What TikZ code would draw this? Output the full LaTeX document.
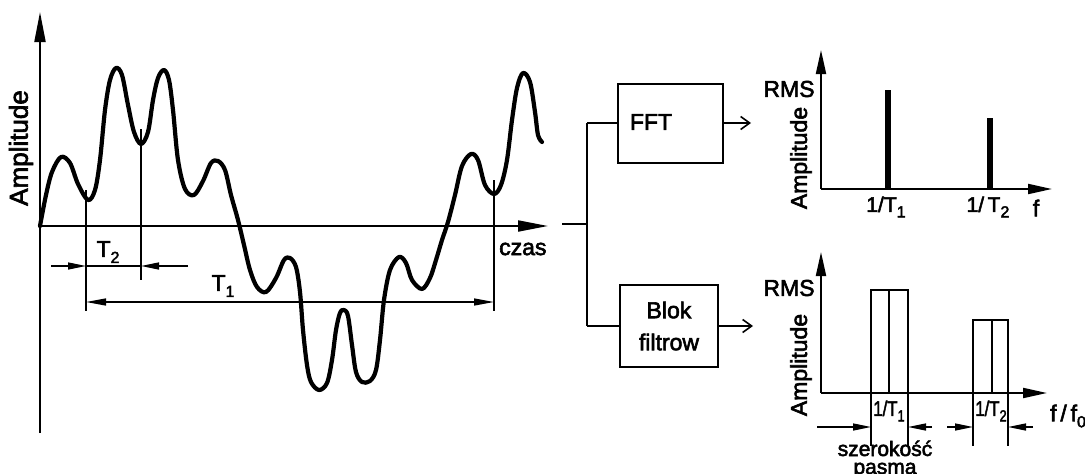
\documentclass[tikz,border=0pt]{standalone}
\usepackage{fontspec}
\setmainfont{Liberation Sans}[FakeBold=2.5]
\usetikzlibrary{arrows.meta}
\newcommand\lsub[1]{\raisebox{-0.5ex}{\fontsize{16}{16}\selectfont #1}}
\begin{document}
\begin{tikzpicture}[x=1pt,y=-1pt,
  axisl/.style={line width=2pt,-{Triangle[length=30pt,width=11pt]}},
  saxis/.style={line width=2pt,-{Triangle[length=24pt,width=10pt]}},
  wave/.style={line width=4.2pt,line join=round,line cap=round},
  mark line/.style={line width=1.4pt},
  dimtip/.style={line width=1.4pt,-{Triangle[length=18pt,width=7pt]}},
  dimboth/.style={line width=1.4pt,{Triangle[length=20pt,width=7pt]}-{Triangle[length=20pt,width=7pt]}},
  lbl/.style={font=\fontsize{23}{26}\selectfont,inner sep=0pt},
  slbl/.style={font=\fontsize{21}{24}\selectfont,inner sep=0pt},
  blk/.style={draw,line width=2pt,inner sep=0pt},
  conn/.style={line width=1.4pt},
  outarrow/.style={line width=1.6pt,-{Straight Barb[length=9pt,width=13pt,line width=1.6pt]}},
  bar/.style={line width=6pt}]
\useasboundingbox (0,0) rectangle (1085,474);

% ---------- time signal ----------
\coordinate (O) at (40,226);
\coordinate (Ytop) at (40,12);
\coordinate (Ybot) at (40,433);
\coordinate (Xend) at (548,226);
\draw[axisl] (Ybot) -- (Ytop);
\draw[axisl] (O) -- (Xend);
\node[lbl,rotate=90,font=\fontsize{26}{28}\selectfont] (ampl) at (21,148) {Amplitude};
\node[lbl,anchor=west] (czas) at (499,249) {czas};

\draw[wave] plot[smooth,tension=0.55] coordinates {
(40,226) (46,195) (52,172) (61,157) (70,163) (78,184) (88,200) (95,190)
(100,160) (105,110) (110,80) (116,68) (122,75) (128,105) (134,132) (141,144)
(148,132) (153,100) (158,78) (164,70) (169,80) (173,110) (178,160) (185,189)
(194,195) (203,181) (211,163) (218,161) (225,170) (231,195) (238,220) (244,245)
(250,270) (257,287) (266,292) (276,278) (284,260) (290,258) (296,267) (300,292)
(303,330) (307,365) (311,382) (319,390) (327,383) (332,360) (336,330) (340,313)
(344,310) (348,316) (352,345) (356,372) (362,382) (370,381) (376,370) (380,340)
(384,300) (390,270) (399,257) (406,263) (412,280) (422,289) (430,278) (436,260)
(442,240) (448,222) (455,195) (462,166) (471,154) (478,160) (485,185) (494,194)
(501,185) (507,160) (512,120) (517,88) (523,73) (530,82) (535,112) (538,135) (542,142)};

\coordinate (m1t) at (86,190); \coordinate (m1b) at (86,311);
\coordinate (m2t) at (141,129); \coordinate (m2b) at (141,280);
\coordinate (m3t) at (494,180); \coordinate (m3b) at (494,311);
\draw[mark line] (m1t) -- (m1b);
\draw[mark line] (m2t) -- (m2b);
\draw[mark line] (m3t) -- (m3b);

\coordinate (t2a) at (51,266); \coordinate (t2l) at (86,266);
\coordinate (t2r) at (141,266); \coordinate (t2b) at (188,266);
\draw[mark line] (t2l) -- (t2r);
\draw[dimtip] (t2a) -- (t2l);
\draw[dimtip] (t2b) -- (t2r);
\node[lbl] (T2) at (108,252) {T\lsub{2}};

\coordinate (t1l) at (86,302); \coordinate (t1r) at (494,302);
\draw[dimboth] (t1l) -- (t1r);
\node[lbl] (T1) at (223,286) {T\lsub{1}};

% ---------- block diagram ----------
\coordinate (in) at (562,224);
\coordinate (br) at (587,224);
\coordinate (brt) at (587,123);
\coordinate (brb) at (587,326);
\node[blk,minimum width=105pt,minimum height=79pt] (fft) at (670.5,123) {};
\node[lbl] (fftt) at (651,122) {FFT};
\node[blk,minimum width=98pt,minimum height=82pt,align=center,
      font=\fontsize{23}{32}\selectfont] (blok) at (669,326) {Blok\\filtrow};
\draw[conn] (in) -- (br);
\draw[conn] (brt) -- (brb);
\draw[conn] (brt) -- (fft.west);
\draw[conn] (brb) -- (blok.west);
\coordinate (fo) at (751,123);
\coordinate (bo) at (753,326);
\draw[outarrow] (fft.east) -- (fo);
\draw[outarrow] (blok.east) -- (bo);

% ---------- top spectrum ----------
\coordinate (O1) at (821,189);
\coordinate (Y1) at (821,50);
\coordinate (X1) at (1052,189);
\draw[saxis] (O1) -- (Y1);
\draw[saxis] (O1) -- (X1);
\coordinate (b1a) at (888,189); \coordinate (b1b) at (888,90);
\coordinate (b2a) at (990,189); \coordinate (b2b) at (990,118);
\draw[bar] (b1a) -- (b1b);
\draw[bar] (b2a) -- (b2b);
\node[lbl] (rms1) at (789,89) {RMS};
\node[lbl,rotate=90] (amp1) at (801,158) {Amplitude};
\node[slbl] (f1) at (886,207) {1/T\lsub{1}};
\node[slbl] (f2) at (988,207) {1/\,T\lsub{2}};
\node[lbl] (ff) at (1036,208) {f};

% ---------- bottom spectrum ----------
\coordinate (O2) at (821,393);
\coordinate (Y2) at (821,252);
\coordinate (X2) at (1047,393);
\draw[saxis] (O2) -- (Y2);
\draw[saxis] (O2) -- (X2);
\draw[line width=2pt] (871,393) rectangle (908,290);
\draw[line width=1.4pt] (889,393) -- (889,290);
\draw[line width=2pt] (973,393) rectangle (1008,320);
\draw[line width=1.4pt] (992,393) -- (992,320);
\coordinate (k1) at (871,446); \coordinate (k2) at (908,446);
\coordinate (k3) at (973,446); \coordinate (k4) at (1008,446);
\draw[mark line] (871,393) -- (k1);
\draw[mark line] (908,393) -- (k2);
\draw[mark line] (973,393) -- (k3);
\draw[mark line] (1008,393) -- (k4);
\draw[dimtip] (817,427) -- (871,427);
\draw[dimtip] (932,427) -- (908,427);
\draw[dimtip] (947,427) -- (973,427);
\draw[dimtip] (1033,427) -- (1008,427);
\node[slbl] (g1) at (889,411) {\scalebox{0.8}[1]{1/T\lsub{1}}};
\node[slbl] (g2) at (991,411) {\scalebox{0.8}[1]{1/T\lsub{2}}};
\node[lbl] (rms2) at (789,288) {RMS};
\node[lbl,rotate=90] (amp2) at (801,365) {Amplitude};
\node[lbl,anchor=west] (ff0) at (1050,416) {f\,/\,f\lsub{0}};
\node[lbl,anchor=base,font=\fontsize{21}{24}\selectfont] (sz) at (885,456) {szerokość};
\node[lbl,anchor=base,font=\fontsize{21}{24}\selectfont] (pa) at (885,474) {pasma};
\end{tikzpicture}
\end{document}
